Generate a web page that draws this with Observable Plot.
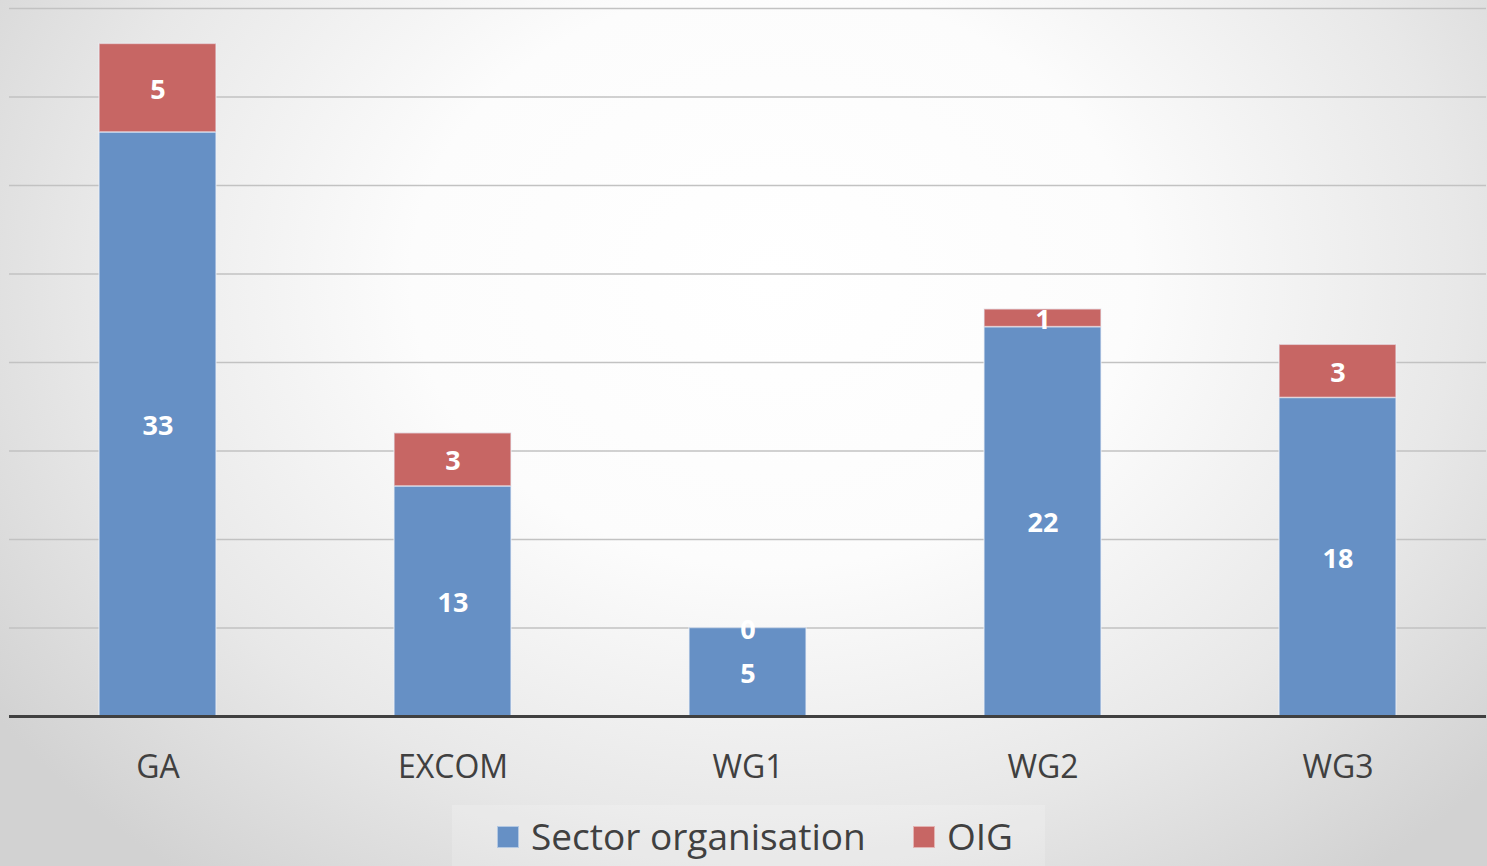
<!DOCTYPE html>
<html><head><meta charset="utf-8">
<script src="https://cdn.jsdelivr.net/npm/d3@7"></script>
<script src="https://cdn.jsdelivr.net/npm/@observablehq/plot@0.6"></script>
<style>
html,body{margin:0;padding:0;}
#wrap{position:relative;width:1487px;height:866px;overflow:hidden;
  background:radial-gradient(ellipse 64% 88% at 52% 32%, #ffffff 0%, #fcfcfc 38%, #e8e8e8 72%, #d2d2d2 100%);
  font-family:"Open Sans",sans-serif;}
#chart{position:absolute;left:0;top:0;}
#legend{position:absolute;left:452px;top:805px;width:593px;height:61px;background:rgba(255,255,255,0.18);}
.sw{position:absolute;width:22px;height:22px;top:21px;box-sizing:border-box;}
.lt{position:absolute;top:6px;font-size:37px;line-height:50px;color:#404040;white-space:nowrap;}
</style></head>
<body><div id="wrap"><div id="chart"></div><div id="legend"></div></div>
<script>
const categories = ["GA","EXCOM","WG1","WG2","WG3"];
const series = ["Sector organisation","OIG"];
const sectorValues = [33,13,5,22,18];
const oigValues = [5,3,0,1,3];
const colors = ["#6690c5","#c76664"];

const data = categories.flatMap((c,i)=>[
  {cat:c, series:series[0], value:sectorValues[i]},
  {cat:c, series:series[1], value:oigValues[i]}
]);

const chart = Plot.plot({
  width:1487, height:800,
  marginLeft:9, marginRight:1, marginTop:8, marginBottom:84,
  style:{background:"transparent", fontFamily:"'Open Sans', sans-serif", overflow:"visible"},
  x:{domain:categories, paddingInner:0.604, paddingOuter:0.302, label:null},
  y:{domain:[0,40], axis:null},
  color:{domain:series, range:colors},
  marks:[
    Plot.gridY(d3.range(5,41,5), {stroke:"#c2c2c2", strokeOpacity:1, strokeWidth:1.5}),
    Plot.barY(data, {x:"cat", y:"value", fill:"series", stroke:"#eef2f8", strokeOpacity:0.6, strokeWidth:1.5}),
    Plot.text(data, Plot.stackY({x:"cat", y:"value", text:d=>String(d.value), fill:"white", fontSize:27, fontWeight:"bold", dy:2})),
    Plot.ruleY([0], {stroke:"#404040", strokeWidth:3}),
    Plot.axisX({tickSize:0, tickPadding:39, fontSize:32, fill:"#404040", label:null})
  ]
});
document.getElementById("chart").appendChild(chart);

const legend = document.getElementById("legend");
const items = [{x:45, tx:79}, {x:461, tx:495}];
series.forEach((s,i)=>{
  const sw = document.createElement("div");
  sw.className="sw"; sw.style.left=items[i].x+"px"; sw.style.background=colors[i];
  sw.style.border="1px solid rgba(255,255,255,0.5)";
  legend.appendChild(sw);
  const t = document.createElement("div");
  t.className="lt"; t.style.left=items[i].tx+"px"; t.textContent=s;
  legend.appendChild(t);
});
</script>
</body></html>
